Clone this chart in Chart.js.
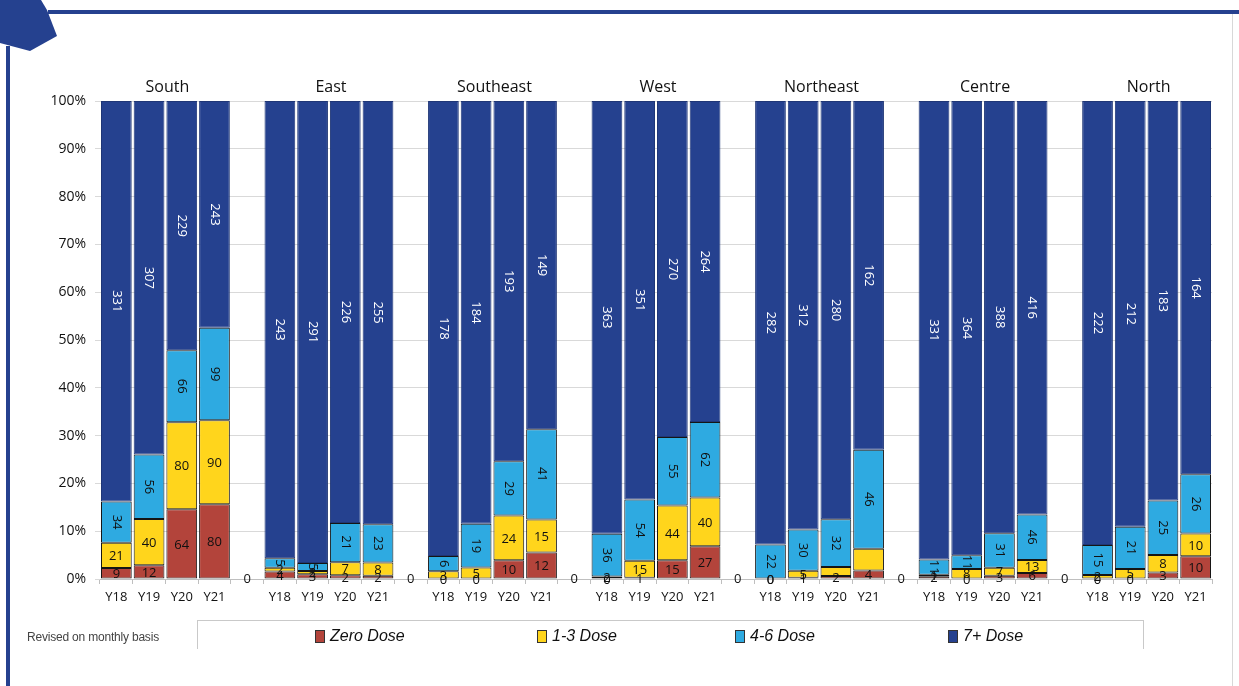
<!DOCTYPE html>
<html>
<head>
<meta charset="utf-8">
<script src="https://cdn.jsdelivr.net/npm/chart.js@4/dist/chart.umd.min.js"></script>
<style>
  html, body { margin: 0; padding: 0; background: #fff; }
  body { width: 1239px; height: 686px; position: relative; overflow: hidden; font-family: "Liberation Sans", Arial, sans-serif; }
  #wrap { position: absolute; left: 0; top: 0; width: 1239px; height: 686px; }
  .frame-top { position: absolute; left: 48px; top: 10px; width: 1191px; height: 4px; background: #25418f; }
  .frame-right { position: absolute; left: 1232px; top: 14px; width: 1px; height: 672px; background: #d8d8d8; }
  .frame-left { position: absolute; left: 6px; top: 46px; width: 4px; height: 640px; background: #25418f; }
  .badge { position: absolute; left: 0; top: 0; }
  .note { position: absolute; left: 27px; top: 630px; font-size: 12px; color: #444; letter-spacing: -0.2px; }
  .legend { position: absolute; left: 197px; top: 620px; width: 945px; height: 28px; border: 1px solid #c9c9c9; border-bottom: none; }
  .legend .item { position: absolute; top: 6px; display: flex; align-items: center; font-style: italic; font-size: 16px; color: #111; }
  .legend .sw { width: 8px; height: 11px; border: 1px solid #333; margin-right: 5px; }
</style>
</head>
<body>
<div id="wrap"><canvas id="chart" width="1239" height="686"></canvas></div>
<svg class="badge" width="60" height="56"><polygon points="0,0 41,0 47,10 57,36 30,51 0,43" fill="#25418f"/></svg>
<div class="frame-top"></div>
<div class="frame-right"></div>
<div class="frame-left"></div>
<div class="note">Revised on monthly basis</div>
<div class="legend" id="legend"></div>
<script>
// Regions and survey years
const regions = ['South', 'East', 'Southeast', 'West', 'Northeast', 'Centre', 'North'];
const years = ['Y18', 'Y19', 'Y20', 'Y21'];

// Children counts per region/year (region-major order, Y18..Y21)
const zeroDose  = [9, 12, 64, 80,   4, 3, 2, 2,      0, 0, 10, 12,    0, 1, 15, 27,    0, 1, 2, 4,      2, 0, 3, 6,      0, 0, 3, 10];
const dose1to3  = [21, 40, 80, 90,  2, 2, 7, 8,      3, 5, 24, 15,    2, 15, 44, 40,   0, 5, 6, 10,     1, 8, 7, 13,     2, 5, 8, 10];
const dose4to6  = [34, 56, 66, 99,  5, 5, 21, 23,    6, 19, 29, 41,   36, 54, 55, 62,  22, 30, 32, 46,  11, 11, 31, 46,  15, 21, 25, 26];
const dose7plus = [331, 307, 229, 243, 243, 291, 226, 255, 178, 184, 193, 149, 363, 351, 270, 264, 282, 312, 280, 162, 331, 364, 388, 416, 222, 212, 183, 164];

const seriesNames = ['Zero Dose', '1-3 Dose', '4-6 Dose', '7+ Dose'];
const seriesColors = ['#b3443b', '#ffd51c', '#2eaae1', '#25418f'];
const seriesCounts = [zeroDose, dose1to3, dose4to6, dose7plus];

// Segments whose value label is left off
const unlabelled = ['Northeast|Y20|1-3 Dose', 'Northeast|Y21|1-3 Dose'];

const yTicks = [0, 10, 20, 30, 40, 50, 60, 70, 80, 90, 100];

// Build category axis: 4 years per region with an empty spacer between regions
const labels = [];
const slot = [];          // index into the count arrays, or -1 for a spacer
regions.forEach((r, ri) => {
  years.forEach((y, yi) => { labels.push(y); slot.push(ri * years.length + yi); });
  if (ri < regions.length - 1) { labels.push(''); slot.push(-1); }
});

const totals = zeroDose.map((_, i) => seriesCounts.reduce((s, arr) => s + arr[i], 0));

const datasets = seriesNames.map((name, si) => ({
  label: name,
  data: slot.map(k => k < 0 ? null : seriesCounts[si][k] / totals[k] * 100),
  counts: slot.map(k => k < 0 ? null : seriesCounts[si][k]),
  backgroundColor: seriesColors[si],
  borderColor: si === 3 ? '#1f3676' : '#151515',
  borderWidth: 1,
  borderSkipped: false,
  barPercentage: 0.94,
  categoryPercentage: 1.0
}));

const FONT = '"Open Sans", "Liberation Sans", sans-serif';

// Value labels, region titles and spacer zeros
const annotate = {
  id: 'annotate',
  afterDatasetsDraw(chart) {
    const ctx = chart.ctx;
    const xs = chart.scales.x, ys = chart.scales.y;
    ctx.save();
    ctx.textAlign = 'center';
    ctx.textBaseline = 'middle';
    ctx.font = '13px ' + FONT;
    chart.data.datasets.forEach((ds, si) => {
      const meta = chart.getDatasetMeta(si);
      meta.data.forEach((bar, i) => {
        const k = slot[i];
        if (k < 0) return;
        const key = regions[Math.floor(k / years.length)] + '|' + years[k % years.length] + '|' + ds.label;
        if (unlabelled.includes(key)) return;
        const cy = (bar.y + bar.base) / 2;
        ctx.fillStyle = si === 3 ? '#ffffff' : '#111111';
        if (si >= 2) {
          ctx.save();
          ctx.translate(bar.x, cy);
          ctx.rotate(Math.PI / 2);
          ctx.fillText(String(ds.counts[i]), 0, 0);
          ctx.restore();
        } else {
          ctx.fillText(String(ds.counts[i]), bar.x, cy + 1);
        }
      });
    });
    // spacer zeros on the baseline
    ctx.fillStyle = '#111111';
    slot.forEach((k, i) => {
      if (k < 0) ctx.fillText('0', xs.getPixelForValue(i), ys.getPixelForValue(0));
    });
    // region titles
    ctx.font = '16px ' + FONT;
    regions.forEach((r, ri) => {
      const first = ri * (years.length + 1);
      const cx = (xs.getPixelForValue(first + 1) + xs.getPixelForValue(first + 2)) / 2 + 2;
      ctx.fillText(r, cx, 87);
    });
    ctx.restore();
  }
};

new Chart(document.getElementById('chart'), {
  type: 'bar',
  data: { labels, datasets },
  options: {
    responsive: false,
    animation: false,
    layout: { padding: { left: 40, right: 27, top: 101, bottom: 77 } },
    plugins: { legend: { display: false }, tooltip: { enabled: false } },
    scales: {
      x: {
        stacked: true,
        grid: { display: true, drawOnChartArea: false, drawTicks: true, tickLength: 5, color: '#bfbfbf', offset: true },
        border: { display: true, color: '#bfbfbf' },
        ticks: { color: '#111', font: { size: 13, family: FONT }, maxRotation: 0, autoSkip: false, padding: 5 },
        afterFit(s) { s.height = 30; }
      },
      y: {
        stacked: true,
        min: 0, max: 100,
        afterBuildTicks(s) { s.ticks = yTicks.map(v => ({ value: v })); },
        grid: { color: '#d9d9d9', tickLength: 5, drawTicks: true },
        border: { display: false },
        ticks: { color: '#111', font: { size: 14, family: FONT }, padding: 9, callback: v => v + '%' },
        afterFit(s) { s.width = 60; }
      }
    }
  },
  plugins: [annotate]
});

// Legend row
const legendLeft = [117, 339, 537, 750];
const legend = document.getElementById('legend');
seriesNames.forEach((name, si) => {
  const item = document.createElement('div');
  item.className = 'item';
  item.style.left = legendLeft[si] + 'px';
  const sw = document.createElement('span');
  sw.className = 'sw';
  sw.style.background = seriesColors[si];
  const tx = document.createElement('span');
  tx.textContent = name;
  item.appendChild(sw);
  item.appendChild(tx);
  legend.appendChild(item);
});
</script>
</body>
</html>
